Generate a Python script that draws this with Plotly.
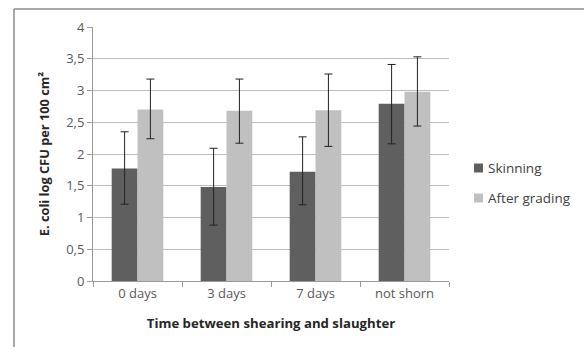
import plotly.graph_objects as go

categories = ["0 days", "3 days", "7 days", "not shorn"]
skinning = [1.77, 1.48, 1.72, 2.79]
skinning_hi = [0.58, 0.61, 0.55, 0.62]
skinning_lo = [0.56, 0.60, 0.52, 0.63]
grading = [2.70, 2.68, 2.69, 2.98]
grading_hi = [0.48, 0.50, 0.57, 0.55]
grading_lo = [0.46, 0.51, 0.57, 0.54]
yticks = [0, 0.5, 1, 1.5, 2, 2.5, 3, 3.5, 4]
series_names = ["Skinning", "After grading"]
series_colors = ["#5f5f5f", "#c0c0c0"]

font = "Open Sans, Liberation Sans, sans-serif"

fig = go.Figure()
for name, vals, hi, lo, col in [
    (series_names[0], skinning, skinning_hi, skinning_lo, series_colors[0]),
    (series_names[1], grading, grading_hi, grading_lo, series_colors[1]),
]:
    fig.add_trace(go.Bar(
        name=name, x=categories, y=vals, marker_color=col, marker_line_width=0,
        showlegend=False,
        error_y=dict(type="data", symmetric=False, array=hi, arrayminus=lo,
                     color="#222222", thickness=1, width=4)))

L, R, T, B = 93, 135, 27, 66
W, H = 584, 347
pw, ph = W - L - R, H - T - B

def px(x):
    return (x - L) / pw

def py(y):
    return (H - B - y) / ph

shapes = [
    dict(type="line", xref="paper", yref="paper", x0=px(14), x1=px(590),
         y0=py(9), y1=py(9), line=dict(color="#8c8c8c", width=1.5)),
    dict(type="line", xref="paper", yref="paper", x0=px(14), x1=px(14),
         y0=py(9), y1=py(350), line=dict(color="#8c8c8c", width=1.5)),
]
annotations = []
for i, (name, col) in enumerate(zip(series_names, series_colors)):
    cy = 168 + 30 * i
    shapes.append(dict(type="rect", xref="paper", yref="paper",
                       x0=px(474), x1=px(483), y0=py(cy - 4.5), y1=py(cy + 4.5),
                       fillcolor=col, line=dict(width=0)))
    annotations.append(dict(xref="paper", yref="paper", x=px(486), y=py(cy),
                            xanchor="left", yanchor="middle", showarrow=False,
                            text=name, font=dict(size=13.5, color="#404040")))

fig.update_layout(
    width=W, height=H, margin=dict(l=L, r=R, t=T, b=B),
    paper_bgcolor="white", plot_bgcolor="white",
    barmode="group", bargap=0.42, bargroupgap=0,
    separators=",.",
    showlegend=False,
    font=dict(family=font, size=13, color="#595959"),
    xaxis=dict(type="category", showline=True, linecolor="#999999", linewidth=1,
               ticks="outside", tickson="boundaries", ticklen=5, tickcolor="#999999",
               tickfont=dict(size=13, color="#595959"),
               title=dict(text="<b>Time between shearing and slaughter</b>",
                          font=dict(size=13.2, color="#262626"), standoff=18)),
    yaxis=dict(range=[0, 4], tickvals=yticks, showgrid=True, gridcolor="#bdbdbd",
               gridwidth=1, showline=True, linecolor="#999999", linewidth=1,
               ticks="outside", ticklen=5, tickcolor="#999999", zeroline=False,
               tickfont=dict(size=13, color="#595959"),
               title=dict(text="<b>E. coli log CFU per 100 cm²</b>",
                          font=dict(size=12.8, color="#262626"), standoff=13)),
    shapes=shapes,
    annotations=annotations,
)

fig.write_html("out.html")
